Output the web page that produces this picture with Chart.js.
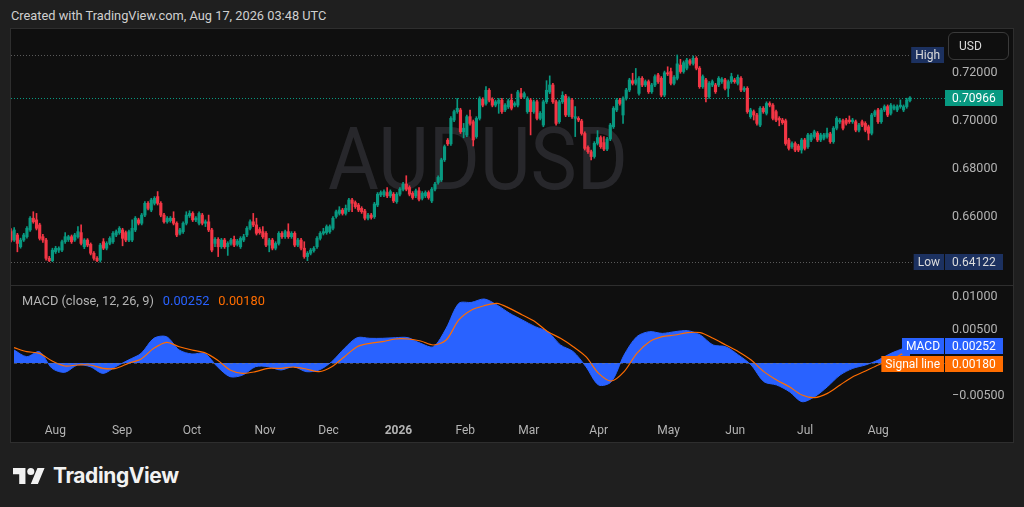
<!DOCTYPE html>
<html lang="en">
<head>
<meta charset="UTF-8">
<meta name="viewport" content="width=device-width, initial-scale=1.0">
<title>AUDUSD daily with MACD</title>
<style>
  html, body { margin: 0; padding: 0; }
  body { width: 1024px; height: 507px; background: #1f1f1f; position: relative; overflow: hidden; font-family: Roboto, "Noto Sans", sans-serif; }
  #created { position: absolute; left: 11px; top: 8px; font-size: 12.8px; color: #d0d0d0; white-space: nowrap; }
  #frame { position: absolute; left: 10px; top: 28px; width: 1002px; height: 413px; border: 1px solid #2e2e2e; background: #0f0f0f; }
  #priceChart { position: absolute; left: 0; top: 0; }
  #paneSep { position: absolute; left: 0; top: 256px; width: 1002px; height: 1px; background: #2e2e2e; }
  #macdChart { position: absolute; left: 0; top: 257px; }
  #currency { position: absolute; left: 937px; top: 3px; width: 59px; height: 26px; border: 1px solid #3a3a3a; border-radius: 6px; color: #d8d8d8; font-size: 12px; line-height: 26px; box-sizing: content-box; padding-left: 0; }
  #currency span { margin-left: 10px; }
  #brand { position: absolute; left: 13px; top: 463px; display: flex; align-items: center; color: #f2f2f2; font-family: Inter, Roboto, sans-serif; font-weight: 700; font-size: 21px; letter-spacing: -0.4px; }
  #brand svg { margin-right: 8px; }
</style>
<script src="https://cdn.jsdelivr.net/npm/chart.js"></script>
</head>
<body>
<div id="created">Created with TradingView.com, Aug 17, 2026 03:48 UTC</div>
<div id="frame">
  <canvas id="priceChart" width="1002" height="256"></canvas>
  <div id="paneSep"></div>
  <canvas id="macdChart" width="1002" height="156"></canvas>
  <div id="currency"><span>USD</span></div>
</div>
<div id="brand">
  <svg width="32" height="16" viewBox="0 4 36 18"><path d="M14 22H7V11H0V4h14v18zM28 22h-8l7.5-18h8L28 22z" fill="#f2f2f2"/><circle cx="20" cy="8" r="4" fill="#f2f2f2"/></svg>
  <span>TradingView</span>
</div>

<script>
// AUDUSD daily candles, 15 Jul 2025 .. 17 Aug 2026
const symbol = 'AUDUSD';
const opens = [
  .6539,.6504,.6525,.6476,.6504,.6518,.6546,.6595,.6588,.6567,
  .6518,.6504,.6428,.6418,.6455,.6462,.6462,.6497,.6506,.6518,
  .6504,.6518,.6535,.6476,.6504,.6486,.6449,.6428,.6420,.6497,
  .6470,.6490,.6497,.6525,.6535,.6546,.6535,.6504,.6504,.6546,
  .6588,.6574,.6608,.6657,.6629,.6657,.6685,.6657,.6608,.6580,
  .6585,.6595,.6574,.6532,.6539,.6574,.6605,.6615,.6588,.6574,
  .6608,.6574,.6580,.6546,.6490,.6507,.6476,.6504,.6476,.6490,
  .6507,.6486,.6476,.6504,.6525,.6553,.6580,.6567,.6548,.6539,
  .6532,.6483,.6504,.6470,.6490,.6532,.6518,.6539,.6518,.6532,
  .6483,.6504,.6470,.6435,.6449,.6460,.6476,.6511,.6532,.6535,
  .6539,.6553,.6602,.6615,.6629,.6615,.6629,.6671,.6660,.6650,
  .6636,.6625,.6595,.6608,.6601,.6650,.6692,.6692,.6702,.6688,
  .6695,.6664,.6695,.6716,.6737,.6723,.6699,.6688,.6709,.6678,
  .6688,.6702,.6667,.6716,.6744,.6755,.6838,.6920,.6905,.7004,
  .7039,.7046,.6955,.6942,.7018,.6997,.6935,.7011,.7090,.7073,
  .7128,.7090,.7066,.7073,.7087,.7046,.7059,.7087,.7066,.7066,
  .7114,.7100,.7039,.7087,.7039,.7080,.7011,.6983,.7080,.7121,
  .7150,.7080,.6997,.7080,.7104,.7025,.7087,.7011,.7011,.7000,
  .6948,.6890,.6872,.6852,.6907,.6931,.6910,.6883,.6925,.6976,
  .7046,.7087,.7025,.7094,.7129,.7168,.7157,.7115,.7178,.7150,
  .7164,.7122,.7150,.7192,.7178,.7108,.7201,.7206,.7157,.7178,
  .7233,.7206,.7220,.7251,.7240,.7261,.7220,.7143,.7171,.7101,
  .7150,.7150,.7150,.7164,.7171,.7136,.7164,.7171,.7157,.7178,
  .7129,.7136,.7018,.7039,.7025,.6983,.7053,.7032,.7073,.7066,
  .7039,.7011,.7004,.7001,.6921,.6893,.6906,.6896,.6879,.6921,
  .6893,.6921,.6935,.6949,.6921,.6928,.6935,.6946,.6914,.6970,
  .6997,.7001,.7004,.7004,.6997,.6997,.6962,.6997,.6990,.6976,
  .6949,.7025,.7046,.6997,.7046,.7060,.7032,.7053,.7046,.7060,
  .7046,.7060,.7085
];
const highs = [
  .6552,.6556,.6532,.6512,.6532,.6560,.6602,.6622,.6615,.6574,
  .6528,.6511,.6436,.6470,.6478,.6476,.6504,.6535,.6524,.6525,
  .6532,.6560,.6567,.6510,.6510,.6492,.6456,.6435,.6490,.6510,
  .6497,.6518,.6539,.6546,.6560,.6553,.6542,.6546,.6588,.6602,
  .6595,.6615,.6664,.6664,.6678,.6685,.6706,.6664,.6615,.6602,
  .6602,.6622,.6580,.6553,.6580,.6622,.6626,.6622,.6602,.6622,
  .6615,.6588,.6608,.6553,.6514,.6514,.6511,.6511,.6497,.6511,
  .6520,.6507,.6518,.6528,.6560,.6588,.6615,.6595,.6556,.6560,
  .6539,.6511,.6511,.6497,.6539,.6539,.6546,.6572,.6539,.6539,
  .6511,.6511,.6497,.6456,.6469,.6477,.6518,.6539,.6553,.6567,
  .6567,.6602,.6629,.6643,.6636,.6650,.6678,.6678,.6667,.6657,
  .6643,.6632,.6615,.6615,.6661,.6702,.6709,.6713,.6723,.6713,
  .6702,.6702,.6723,.6744,.6772,.6730,.6706,.6716,.6723,.6706,
  .6709,.6709,.6723,.6744,.6772,.6845,.6900,.6927,.7018,.7046,
  .7094,.7053,.6990,.7025,.7046,.7004,.7018,.7101,.7097,.7143,
  .7135,.7097,.7087,.7094,.7094,.7073,.7091,.7112,.7080,.7128,
  .7136,.7121,.7101,.7094,.7087,.7087,.7039,.7087,.7168,.7188,
  .7157,.7087,.7087,.7122,.7111,.7101,.7094,.7060,.7018,.7007,
  .6955,.6897,.6879,.6914,.6960,.6938,.6935,.6932,.6990,.7060,
  .7094,.7094,.7101,.7136,.7178,.7199,.7219,.7185,.7185,.7171,
  .7171,.7157,.7192,.7199,.7185,.7208,.7226,.7220,.7189,.7275,
  .7257,.7250,.7261,.7258,.7271,.7268,.7227,.7192,.7178,.7164,
  .7171,.7157,.7185,.7181,.7178,.7171,.7199,.7178,.7192,.7185,
  .7143,.7143,.7053,.7046,.7032,.7060,.7060,.7080,.7080,.7073,
  .7046,.7018,.7011,.7008,.6928,.6913,.6913,.6903,.6928,.6928,
  .6949,.6949,.6962,.6956,.6949,.6949,.6970,.6953,.6977,.7018,
  .7011,.7008,.7011,.7021,.7011,.7004,.6990,.7004,.6997,.6983,
  .7032,.7046,.7053,.7053,.7067,.7067,.7073,.7067,.7067,.7088,
  .7067,.7095,.7102
];
const lows = [
  .6496,.6498,.6455,.6470,.6498,.6512,.6540,.6574,.6546,.6504,
  .6494,.6420,.6414,.6414,.6448,.6452,.6456,.6490,.6498,.6490,
  .6498,.6512,.6484,.6468,.6476,.6442,.6420,.6414,.64122,.6464,
  .6463,.6484,.6490,.6518,.6528,.6480,.6497,.6497,.6497,.6539,
  .6567,.6567,.6601,.6629,.6622,.6650,.6650,.6601,.6574,.6574,
  .6578,.6567,.6518,.6525,.6532,.6567,.6598,.6581,.6581,.6567,
  .6567,.6560,.6539,.6455,.6476,.6435,.6469,.6469,.6440,.6483,
  .6476,.6479,.6469,.6497,.6518,.6546,.6560,.6525,.6528,.6511,
  .6476,.6455,.6463,.6463,.6483,.6511,.6511,.6511,.6511,.6476,
  .6476,.6463,.6428,.6418,.6442,.6453,.6469,.6504,.6525,.6528,
  .6532,.6546,.6595,.6608,.6608,.6608,.6622,.6622,.6636,.6622,
  .6615,.6588,.6588,.6591,.6594,.6643,.6685,.6685,.6681,.6681,
  .6660,.6657,.6688,.6709,.6709,.6688,.6674,.6681,.6667,.6671,
  .6681,.6674,.6660,.6709,.6737,.6748,.6831,.6898,.6898,.6997,
  .7032,.6948,.6930,.6935,.6983,.6896,.6928,.7004,.7059,.7066,
  .7080,.7059,.7059,.7032,.7032,.7039,.7052,.7046,.7059,.7059,
  .7093,.7093,.7032,.6942,.7032,.7004,.7004,.6976,.7073,.7114,
  .7073,.6983,.6990,.7073,.7018,.7018,.7011,.6935,.6997,.6941,
  .6879,.6865,.6838,.6845,.6900,.6886,.6876,.6876,.6918,.6969,
  .7039,.7066,.6990,.7087,.7122,.7150,.7150,.7108,.7143,.7143,
  .7115,.7115,.7143,.7157,.7101,.7101,.7189,.7150,.7150,.7171,
  .7199,.7199,.7213,.7233,.7233,.7213,.7136,.7136,.7080,.7094,
  .7143,.7115,.7143,.7157,.7129,.7101,.7157,.7157,.7150,.7122,
  .7122,.7032,.7011,.7004,.6983,.6976,.7032,.7025,.7059,.7004,
  .6997,.6980,.6986,.6899,.6879,.6886,.6872,.6872,.6866,.6879,
  .6886,.6914,.6928,.6914,.6914,.6921,.6928,.6907,.6907,.6963,
  .6990,.6963,.6983,.6990,.6990,.6955,.6955,.6976,.6955,.6921,
  .6942,.7018,.6990,.6990,.7039,.7018,.7025,.7046,.7039,.7053,
  .7039,.7053,.7080
];
const closes = [
  .6504,.6546,.6490,.6504,.6525,.6553,.6595,.6580,.6553,.6511,
  .6504,.6428,.6418,.6462,.6470,.6470,.6497,.6518,.6518,.6497,
  .6525,.6539,.6490,.6504,.6483,.6449,.6428,.6418,.6483,.6470,
  .6490,.6511,.6532,.6539,.6553,.6511,.6504,.6539,.6553,.6595,
  .6574,.6608,.6657,.6636,.6671,.6678,.6657,.6608,.6580,.6595,
  .6595,.6574,.6525,.6546,.6574,.6608,.6615,.6588,.6595,.6615,
  .6574,.6580,.6546,.6462,.6507,.6476,.6504,.6476,.6490,.6504,
  .6483,.6500,.6511,.6518,.6553,.6580,.6567,.6532,.6535,.6518,
  .6483,.6504,.6470,.6490,.6532,.6518,.6539,.6518,.6532,.6483,
  .6504,.6470,.6435,.6449,.6462,.6470,.6511,.6532,.6539,.6560,
  .6560,.6595,.6622,.6629,.6615,.6636,.6671,.6657,.6643,.6629,
  .6622,.6595,.6608,.6598,.6654,.6695,.6702,.6706,.6688,.6706,
  .6667,.6695,.6716,.6737,.6716,.6695,.6681,.6709,.6674,.6699,
  .6702,.6681,.6716,.6737,.6765,.6838,.6893,.6905,.7011,.7039,
  .7053,.6955,.6970,.7018,.6990,.6921,.7011,.7094,.7066,.7128,
  .7087,.7066,.7080,.7087,.7039,.7066,.7084,.7053,.7073,.7121,
  .7100,.7114,.7094,.7039,.7080,.7011,.7032,.7080,.7128,.7150,
  .7080,.6990,.7080,.7107,.7025,.7094,.7018,.7018,.7004,.6948,
  .6886,.6872,.6852,.6907,.6931,.6893,.6883,.6925,.6983,.7053,
  .7087,.7073,.7094,.7129,.7171,.7157,.7171,.7178,.7150,.7164,
  .7122,.7150,.7185,.7164,.7108,.7201,.7196,.7157,.7182,.7238,
  .7206,.7243,.7254,.7240,.7261,.7220,.7143,.7185,.7101,.7157,
  .7164,.7122,.7178,.7174,.7136,.7164,.7185,.7164,.7182,.7129,
  .7136,.7039,.7046,.7025,.6990,.7053,.7039,.7073,.7066,.7011,
  .7004,.7004,.6993,.6906,.6886,.6906,.6879,.6879,.6921,.6886,
  .6942,.6942,.6955,.6921,.6942,.6942,.6949,.6914,.6970,.7011,
  .7004,.6970,.6990,.6997,.7004,.6962,.6983,.6983,.6962,.6949,
  .7025,.7039,.6997,.7046,.7060,.7025,.7066,.7060,.7060,.7066,
  .7060,.7088,.70966
];

// MACD (12, 26, 9) read every 4th session, last value = last session
const macdStep = 4;
const macdLine = [
  .00197,.00096,.00172,-.00081,-.00141,-.00030,-.00056,-.00157,-.00056,.00045,
  .00146,.00374,.00399,.00197,.00136,.00146,-.00056,-.00207,-.00182,-.00056,
  -.00056,-.00106,-.00056,-.00131,-.00106,.00020,.00222,.00384,.00374,.00374,
  .00384,.00384,.00298,.00247,.00525,.00904,.00919,.00970,.00879,.00753,
  .00652,.00551,.00475,.00273,.00172,-.00056,-.00333,-.00283,.00121,.00399,
  .00475,.00449,.00475,.00490,.00424,.00273,.00247,.00121,-.00030,-.00283,
  -.00333,-.00434,-.00586,-.00510,-.00359,-.00182,-.00081,-.00030,.00045,.00146,
  .00222,.00252
];
const signalLine = [
  .00232,.00172,.00146,.00030,-.00045,-.00030,-.00030,-.00081,-.00081,-.00005,
  .00061,.00222,.00313,.00247,.00197,.00157,.00045,-.00106,-.00157,-.00131,
  -.00081,-.00081,-.00061,-.00091,-.00131,-.00056,.00096,.00247,.00298,.00323,
  .00364,.00364,.00333,.00273,.00348,.00652,.00803,.00869,.00904,.00828,
  .00727,.00626,.00475,.00374,.00247,.00096,-.00157,-.00273,-.00131,.00146,
  .00323,.00399,.00424,.00460,.00460,.00374,.00273,.00172,.00045,-.00131,
  -.00258,-.00359,-.00485,-.00525,-.00460,-.00333,-.00207,-.00121,-.00030,.00045,
  .00150,.00180
];

const priceTicks = [0.66, 0.68, 0.70, 0.72];
const macdTicks = [-0.005, 0.005, 0.01];
const monthNames = ['Jan','Feb','Mar','Apr','May','Jun','Jul','Aug','Sep','Oct','Nov','Dec'];
const closedDays = ['2025-12-25', '2026-01-01'];
const futureSlots = 11;

// session dates (weekdays, minus closed days), plus some empty space on the right
const labels = [];
for (let t = Date.UTC(2025, 6, 15); labels.length < closes.length + futureSlots; t += 86400000) {
  const d = new Date(t);
  if (d.getUTCDay() === 0 || d.getUTCDay() === 6) continue;
  const s = d.toISOString().slice(0, 10);
  if (closedDays.includes(s)) continue;
  labels.push(s);
}

const UP = '#089981', DOWN = '#f23645';
const AXIS_TEXT = '#b4b4b4';
const candleColors = closes.map((c, i) => c >= opens[i] ? UP : DOWN);
const lastIdx = closes.length - 1;
const lastClose = closes[lastIdx];
const hiVal = Math.max(...highs);
const loVal = Math.min(...lows);

Chart.defaults.font.family = 'Roboto';
Chart.defaults.font.size = 12;

// fixed axis width, and no extra room reserved for the end labels
function fixWidth(s) { s.width = 68; s.paddingTop = 0; s.paddingBottom = 0; }
function fmt(v) { return (v < 0 ? '\u2212' : '') + Math.abs(v).toFixed(5); }

function tag(ctx, text, xRight, yMid, bg, fg, w) {
  ctx.font = '12px Roboto';
  const tw = w || ctx.measureText(text).width + 8;
  const top = Math.round(yMid - 8);
  ctx.fillStyle = bg;
  ctx.fillRect(xRight - tw, top, tw, 16);
  ctx.fillStyle = fg;
  ctx.textBaseline = 'middle';
  ctx.textAlign = 'left';
  ctx.fillText(text, xRight - tw + (w ? 7 : 4), top + 8.5);
}

function dotted(ctx, x1, x2, y, color) {
  ctx.save();
  ctx.strokeStyle = color;
  ctx.lineWidth = 1;
  ctx.setLineDash([1, 2]);
  ctx.beginPath();
  ctx.moveTo(x1, Math.round(y) + 0.5);
  ctx.lineTo(x2, Math.round(y) + 0.5);
  ctx.stroke();
  ctx.restore();
}

const priceOverlay = {
  id: 'priceOverlay',
  beforeDatasetsDraw(chart) {
    const { ctx, chartArea: a, scales: { y } } = chart;
    ctx.save();
    ctx.font = '88px Roboto';
    const m = ctx.measureText(symbol);
    ctx.translate((a.left + a.right) / 2, (a.top + a.bottom) / 2 + m.actualBoundingBoxAscent / 2);
    ctx.scale(300 / m.width, 1);
    ctx.fillStyle = '#27272b';
    ctx.textAlign = 'center';
    ctx.textBaseline = 'alphabetic';
    ctx.fillText(symbol, 0, 0);
    ctx.restore();
    dotted(ctx, a.left, a.right - 36, y.getPixelForValue(hiVal), '#5a5a5a');
    dotted(ctx, a.left, a.right - 33, y.getPixelForValue(loVal), '#5a5a5a');
    dotted(ctx, a.left, a.right, y.getPixelForValue(lastClose), UP);
  },
  afterDraw(chart) {
    const { ctx, chartArea: a, scales: { y } } = chart;
    ctx.save();
    tag(ctx, 'High', a.right - 1, y.getPixelForValue(hiVal), '#1c3160', '#dcdcdc');
    tag(ctx, 'Low', a.right - 1, y.getPixelForValue(loVal), '#1c3160', '#dcdcdc');
    tag(ctx, loVal.toFixed(5), a.right + 58, y.getPixelForValue(loVal), '#1c3160', '#dcdcdc', 58);
    tag(ctx, lastClose.toFixed(5), a.right + 58, y.getPixelForValue(lastClose), UP, '#ffffff', 58);
    ctx.restore();
  }
};

const macdOverlay = {
  id: 'macdOverlay',
  afterDatasetsDraw(chart) {
    const { ctx, chartArea: a, scales: { y } } = chart;
    ctx.save();
    ctx.strokeStyle = 'rgba(120,123,134,0.55)';
    ctx.setLineDash([3, 3]);
    ctx.beginPath();
    const y0 = Math.round(y.getPixelForValue(0)) + 0.5;
    ctx.moveTo(a.left, y0);
    ctx.lineTo(a.right, y0);
    ctx.stroke();
    ctx.setLineDash([]);
    // legend
    ctx.font = '12.8px Roboto';
    ctx.textBaseline = 'middle';
    ctx.textAlign = 'left';
    const parts = [['MACD (close, 12, 26, 9)', '#b4b4b4'], [macdLine[macdLine.length - 1].toFixed(5), '#2962ff'], [signalLine[signalLine.length - 1].toFixed(5), '#ff6d00']];
    let x = a.left + 8;
    parts.forEach(([t, c]) => {
      ctx.fillStyle = c;
      ctx.fillText(t, x, 16);
      x += ctx.measureText(t).width + 9;
    });
    ctx.restore();
  },
  afterDraw(chart) {
    const { ctx, chartArea: a, scales: { y } } = chart;
    const mv = macdLine[macdLine.length - 1], sv = signalLine[signalLine.length - 1];
    const my = y.getPixelForValue(mv);
    const sy = Math.max(y.getPixelForValue(sv), my + 18);
    ctx.save();
    tag(ctx, 'MACD', a.right - 1, my, '#2962ff', '#ffffff');
    tag(ctx, fmt(mv), a.right + 58, my, '#2962ff', '#ffffff', 58);
    tag(ctx, 'Signal line', a.right - 1, sy, '#ff6d00', '#ffffff');
    tag(ctx, fmt(sv), a.right + 58, sy, '#ff6d00', '#ffffff', 58);
    ctx.restore();
  }
};

const baseOptions = {
  responsive: false,
  animation: false,
  events: [],
  layout: { padding: 0 },
  plugins: { legend: { display: false }, tooltip: { enabled: false } }
};

new Chart(document.getElementById('priceChart'), {
  type: 'bar',
  data: {
    labels: labels,
    datasets: [
      { data: lows.map((l, i) => [l, highs[i]]), backgroundColor: candleColors, barThickness: 1, grouped: false, order: 2 },
      { data: opens.map((o, i) => [o, closes[i]]), backgroundColor: candleColors, barThickness: 2.5, minBarLength: 1, grouped: false, order: 1 }
    ]
  },
  options: {
    ...baseOptions,
    scales: {
      x: { display: false, offset: false },
      y: {
        position: 'right', min: 0.63167, max: 0.73833,
        grid: { display: false, drawTicks: false }, border: { display: false },
        afterBuildTicks: s => { s.ticks = priceTicks.map(v => ({ value: v })); },
        afterFit: fixWidth,
        ticks: { color: AXIS_TEXT, padding: 7, font: { size: 12.5 }, callback: v => v.toFixed(5) }
      }
    }
  },
  plugins: [priceOverlay]
});

// month names at the first session of each month (no labels in the empty space on the right)
function monthTick(i) {
  if (i === 0 || i > lastIdx) return '';
  const cur = labels[i], prev = labels[i - 1];
  if (cur.slice(5, 7) === prev.slice(5, 7)) return '';
  const m = Number(cur.slice(5, 7)) - 1;
  return m === 0 ? cur.slice(0, 4) : monthNames[m];
}

const pointAt = (v, k) => ({ x: labels[Math.min(k * macdStep, lastIdx)], y: v });

new Chart(document.getElementById('macdChart'), {
  type: 'line',
  data: {
    labels: labels,
    datasets: [
      { data: signalLine.map(pointAt), borderColor: '#ff6d00', borderWidth: 1.2, pointRadius: 0, fill: false, tension: 0.3, order: 1 },
      { data: macdLine.map(pointAt), borderColor: '#2962ff', backgroundColor: '#2962ff', borderWidth: 1, pointRadius: 0, fill: 'origin', tension: 0.3, order: 2 }
    ]
  },
  options: {
    ...baseOptions,
    scales: {
      x: {
        offset: false,
        grid: { display: false, drawTicks: false }, border: { display: false },
        afterFit: s => { s.height = 21; },
        ticks: {
          autoSkip: false, maxRotation: 0, minRotation: 0, padding: 3, color: AXIS_TEXT,
          font: c => ({ family: 'Roboto', size: 12, weight: c.tick && /^\d{4}$/.test(c.tick.label) ? 'bold' : 'normal' }),
          callback: (v, i) => monthTick(i)
        }
      },
      y: {
        position: 'right', min: -0.00879, max: 0.01167,
        grid: { display: false, drawTicks: false }, border: { display: false },
        afterBuildTicks: s => { s.ticks = macdTicks.map(v => ({ value: v })); },
        afterFit: fixWidth,
        ticks: { color: AXIS_TEXT, padding: 7, font: { size: 12.5 }, callback: v => fmt(v) }
      }
    }
  },
  plugins: [macdOverlay]
});
</script>
</body>
</html>
